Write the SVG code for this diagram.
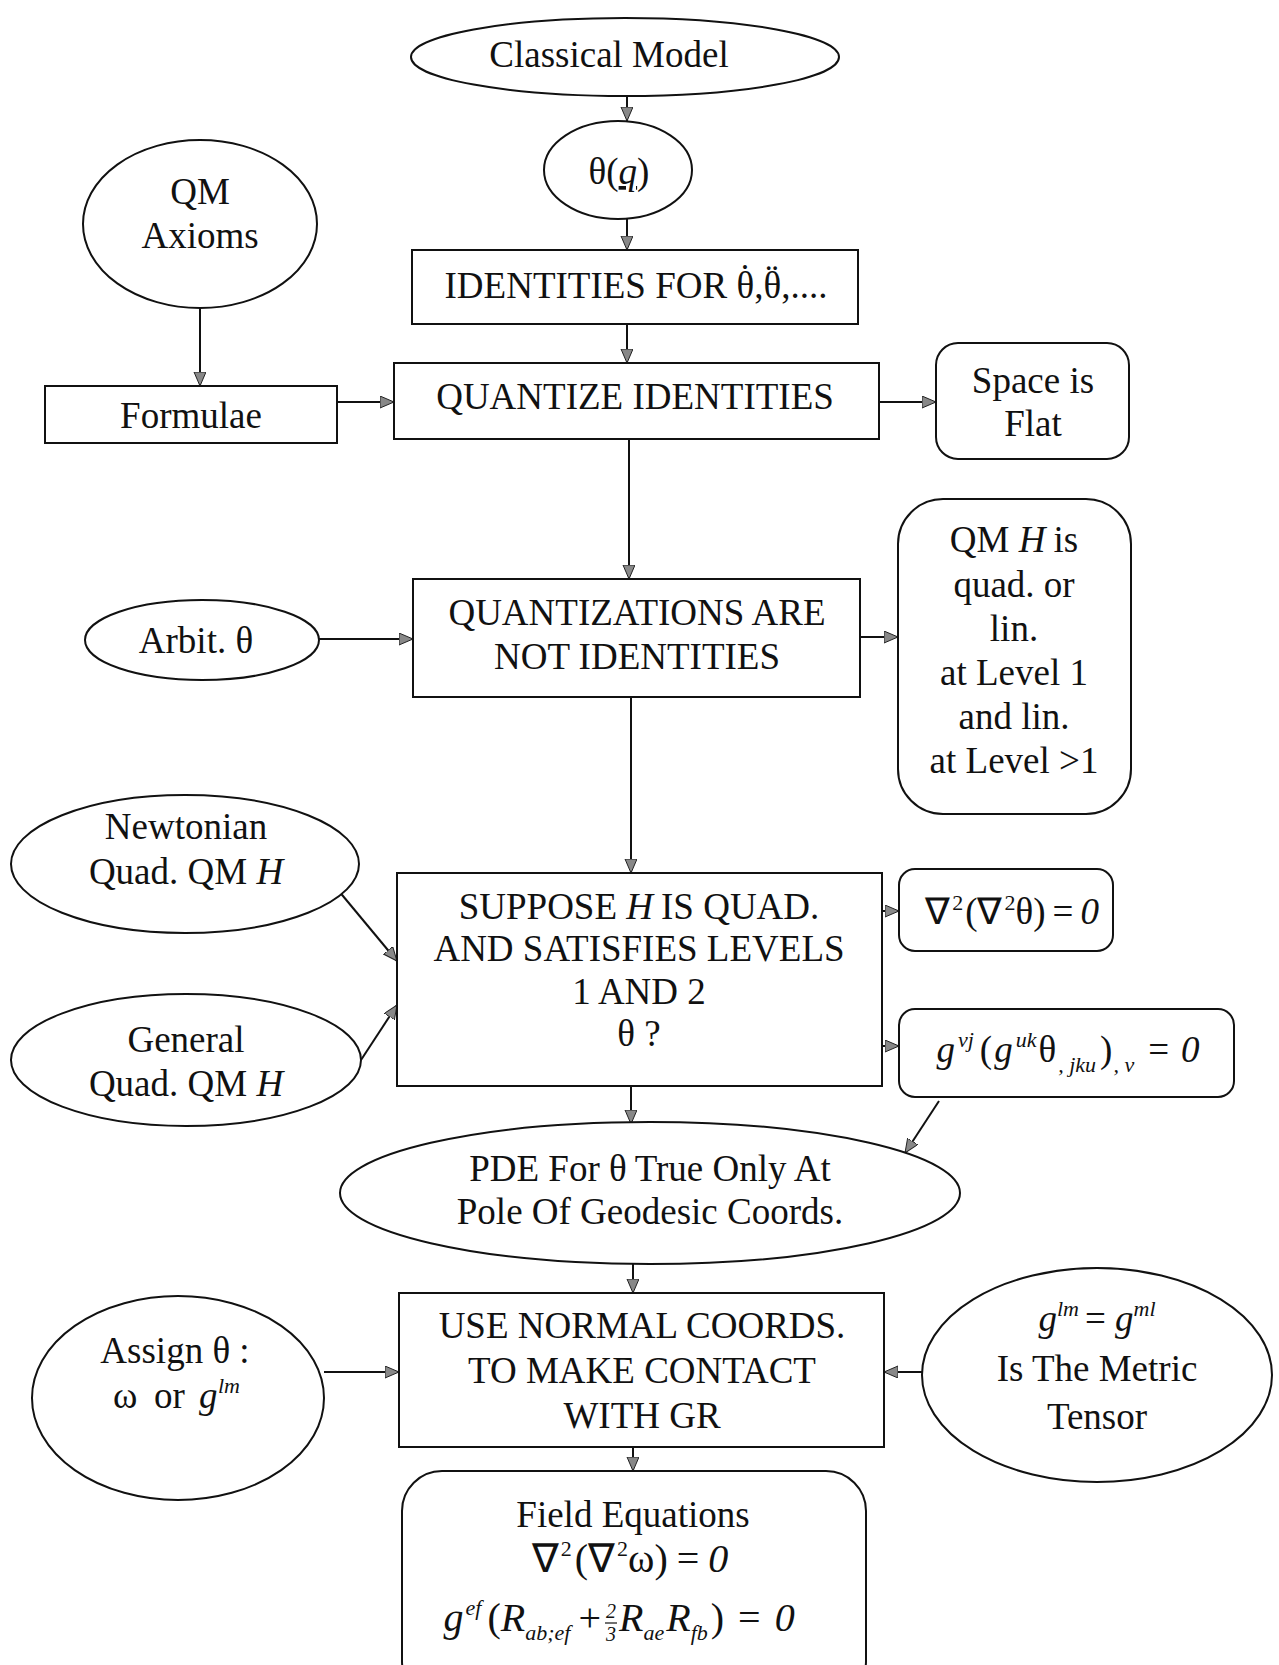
<svg xmlns="http://www.w3.org/2000/svg" width="1279" height="1665" viewBox="0 0 1279 1665">
  <defs>
    <marker id="ah" markerUnits="userSpaceOnUse" markerWidth="16" markerHeight="14" refX="14" refY="6" orient="auto">
      <path d="M0,0 L14,6 L0,12 Z" fill="#888" stroke="#222" stroke-width="1"/>
    </marker>
    <style>
      .n { fill: #fff; stroke: #111; stroke-width: 2; }
      .c { fill: none; stroke: #111; stroke-width: 2; marker-end: url(#ah); }
      .t { font-family: "Liberation Serif", "Times New Roman", serif; font-size: 37px; fill: #111; text-anchor: middle; }
      .m { font-size: 40px; }
      .l { text-anchor: start; }
      .i { font-style: italic; }
      .s { font-size: 22px; }
      .f { font-size: 20px; font-style: italic; }
    </style>
  </defs>
  <rect x="0" y="0" width="1279" height="1665" fill="#fff"/>

  <!-- connectors -->
  <g id="connectors">
    <line class="c" x1="627" y1="96" x2="627" y2="121"/>
    <line class="c" x1="627" y1="218" x2="627" y2="250"/>
    <line class="c" x1="200" y1="308" x2="200" y2="386"/>
    <line class="c" x1="627" y1="324" x2="627" y2="363"/>
    <line class="c" x1="337" y1="402" x2="394" y2="402"/>
    <line class="c" x1="879" y1="402" x2="936" y2="402"/>
    <line class="c" x1="629" y1="439" x2="629" y2="579"/>
    <line class="c" x1="319" y1="639" x2="413" y2="639"/>
    <line class="c" x1="860" y1="637" x2="898" y2="637"/>
    <line class="c" x1="631" y1="697" x2="631" y2="873"/>
    <line class="c" x1="338" y1="890" x2="397" y2="961"/>
    <line class="c" x1="361" y1="1060" x2="397" y2="1005"/>
    <line class="c" x1="882" y1="911" x2="899" y2="911"/>
    <line class="c" x1="882" y1="1046" x2="899" y2="1046"/>
    <line class="c" x1="631" y1="1086" x2="631" y2="1124"/>
    <line class="c" x1="939" y1="1101" x2="905" y2="1153"/>
    <line class="c" x1="633" y1="1264" x2="633" y2="1293"/>
    <line class="c" x1="324" y1="1372" x2="399" y2="1372"/>
    <line class="c" x1="922" y1="1372" x2="884" y2="1372"/>
    <line class="c" x1="633" y1="1447" x2="633" y2="1471"/>
  </g>

  <g id="classical-model">
    <ellipse class="n" cx="625" cy="57" rx="214" ry="39"/>
    <text class="t" x="609" y="67">Classical Model</text>
  </g>

  <g id="theta-q">
    <ellipse class="n" cx="618" cy="170" rx="74" ry="49"/>
    <text class="t" x="619" y="184">θ(<tspan class="i" text-decoration="underline">q</tspan>)</text>
  </g>

  <g id="identities">
    <rect class="n" x="412" y="250" width="446" height="74"/>
    <text class="t" x="636" y="298">IDENTITIES FOR θ<tspan dx="-15.4" dy="-8">˙</tspan><tspan dx="3.1" dy="8">,θ</tspan><tspan dx="-15.4" dy="-8">¨</tspan><tspan dx="3.1" dy="8">,....</tspan></text>
  </g>

  <g id="qm-axioms">
    <ellipse class="n" cx="200" cy="224" rx="117" ry="84"/>
    <text class="t" x="200" y="204">QM</text>
    <text class="t" x="200" y="248">Axioms</text>
  </g>

  <g id="formulae">
    <rect class="n" x="45" y="386" width="292" height="57"/>
    <text class="t" x="191" y="428">Formulae</text>
  </g>

  <g id="quantize-identities">
    <rect class="n" x="394" y="363" width="485" height="76"/>
    <text class="t" x="635" y="409">QUANTIZE IDENTITIES</text>
  </g>

  <g id="space-flat">
    <rect class="n" x="936" y="343" width="193" height="116" rx="22"/>
    <text class="t" x="1033" y="393">Space is</text>
    <text class="t" x="1033" y="436">Flat</text>
  </g>

  <g id="quantizations">
    <rect class="n" x="413" y="579" width="447" height="118"/>
    <text class="t" x="637" y="625">QUANTIZATIONS ARE</text>
    <text class="t" x="637" y="669">NOT IDENTITIES</text>
  </g>

  <g id="arbit-theta">
    <ellipse class="n" cx="202" cy="640" rx="117" ry="40"/>
    <text class="t" x="196" y="653">Arbit. θ</text>
  </g>

  <g id="qm-h-level">
    <rect class="n" x="898" y="499" width="233" height="315" rx="45"/>
    <text class="t" x="1014" y="552">QM <tspan class="i">H</tspan><tspan dx="8">is</tspan></text>
    <text class="t" x="1014" y="597">quad. or</text>
    <text class="t" x="1014" y="641">lin.</text>
    <text class="t" x="1014" y="685">at Level 1</text>
    <text class="t" x="1014" y="729">and lin.</text>
    <text class="t" x="1014" y="773">at Level &gt;1</text>
  </g>

  <g id="newtonian">
    <ellipse class="n" cx="185" cy="864" rx="174" ry="69"/>
    <text class="t" x="186" y="839">Newtonian</text>
    <text class="t" x="186" y="884">Quad. QM <tspan class="i">H</tspan></text>
  </g>

  <g id="general">
    <ellipse class="n" cx="186" cy="1060" rx="175" ry="66"/>
    <text class="t" x="186" y="1052">General</text>
    <text class="t" x="186" y="1096">Quad. QM <tspan class="i">H</tspan></text>
  </g>

  <g id="suppose">
    <rect class="n" x="397" y="873" width="485" height="213"/>
    <text class="t" x="639" y="919">SUPPOSE <tspan class="i">H</tspan><tspan dx="8">IS QUAD.</tspan></text>
    <text class="t" x="639" y="961">AND SATISFIES LEVELS</text>
    <text class="t" x="639" y="1004">1 AND 2</text>
    <text class="t" x="639" y="1046">θ ?</text>
  </g>

  <g id="biharmonic">
    <rect class="n" x="899" y="869" width="214" height="82" rx="16"/>
    <text class="t" x="1012" y="924">∇<tspan class="s" dx="2" dy="-14">2</tspan><tspan dx="2" dy="14">(∇</tspan><tspan class="s" dx="2" dy="-14">2</tspan><tspan dy="14">θ)</tspan><tspan dx="7">=</tspan><tspan class="i" dx="7">0</tspan></text>
  </g>

  <g id="covariant-pde">
    <rect class="n" x="899" y="1009" width="335" height="88" rx="16"/>
    <text class="t" x="1068" y="1062"><tspan class="i">g</tspan><tspan class="i s" dx="3" dy="-15">vj</tspan><tspan dx="6" dy="15">(</tspan><tspan class="i" dx="2">g</tspan><tspan class="i s" dx="3" dy="-15">uk</tspan><tspan dx="2" dy="15">θ</tspan><tspan class="i s" dx="2" dy="10">, jku</tspan><tspan dx="4" dy="-10">)</tspan><tspan class="i s" dx="1" dy="10">, v</tspan><tspan dx="14" dy="-10">=</tspan><tspan class="i" dx="12">0</tspan></text>
  </g>

  <g id="pde-geodesic">
    <ellipse class="n" cx="650" cy="1193" rx="310" ry="71"/>
    <text class="t" x="650" y="1181">PDE For θ<tspan dx="8">True Only At</tspan></text>
    <text class="t" x="650" y="1224">Pole Of Geodesic Coords.</text>
  </g>

  <g id="normal-coords">
    <rect class="n" x="399" y="1293" width="485" height="154"/>
    <text class="t" x="642" y="1338">USE NORMAL COORDS.</text>
    <text class="t" x="642" y="1383">TO MAKE CONTACT</text>
    <text class="t" x="642" y="1428">WITH GR</text>
  </g>

  <g id="assign-theta">
    <ellipse class="n" cx="178" cy="1398" rx="146" ry="102"/>
    <text class="t" x="175" y="1363">Assign θ :</text>
    <text class="t l" x="113" y="1408">ω<tspan x="154">or</tspan><tspan class="i" x="199">g</tspan><tspan class="i s" x="218" dy="-15">lm</tspan></text>
  </g>

  <g id="metric-tensor">
    <ellipse class="n" cx="1097" cy="1375" rx="175" ry="107"/>
    <text class="t" x="1097" y="1331"><tspan class="i">g</tspan><tspan class="i s" dy="-15">lm</tspan><tspan dy="15" dx="6">= </tspan><tspan class="i">g</tspan><tspan class="i s" dy="-15">ml</tspan></text>
    <text class="t" x="1097" y="1381">Is The Metric</text>
    <text class="t" x="1097" y="1429">Tensor</text>
  </g>

  <g id="field-equations">
    <rect class="n" x="402" y="1471" width="464" height="230" rx="40"/>
    <text class="t" x="633" y="1527">Field Equations</text>
    <text class="t m" x="630" y="1572">∇<tspan class="s" dx="2" dy="-16">2</tspan><tspan dx="3" dy="16">(∇</tspan><tspan class="s" dx="2" dy="-16">2</tspan><tspan dy="16">ω)</tspan><tspan dx="9">=</tspan><tspan class="i" dx="9">0</tspan></text>
    <text class="t m" x="601" y="1631" style="text-anchor:end"><tspan class="i">g</tspan><tspan class="i s" dx="2" dy="-16">ef</tspan><tspan dx="6" dy="16">(</tspan><tspan class="i">R</tspan><tspan class="i s" dy="9">ab;ef</tspan><tspan dx="8" dy="-9">+</tspan></text>
    <text class="t f" x="611" y="1618">2</text>
    <line x1="605" y1="1623" x2="617" y2="1623" stroke="#111" stroke-width="1.2"/>
    <text class="t f" x="611" y="1641">3</text>
    <text class="t m l" x="619" y="1631"><tspan class="i">R</tspan><tspan class="i s" dy="9">ae</tspan><tspan class="i" dx="2" dy="-9">R</tspan><tspan class="i s" dy="9">fb</tspan><tspan dx="3" dy="-9">)</tspan><tspan dx="14">=</tspan><tspan class="i" dx="14">0</tspan></text>
  </g>
</svg>
